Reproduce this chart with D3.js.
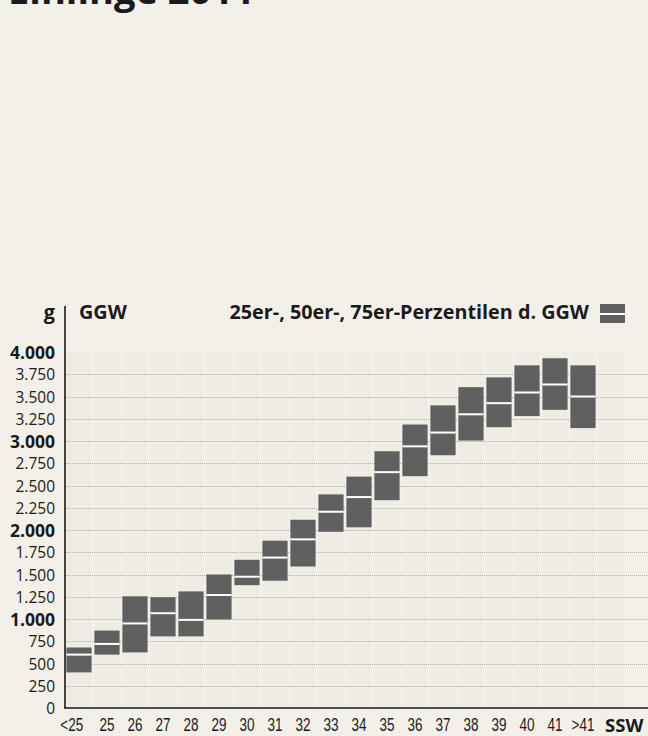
<!DOCTYPE html>
<html>
<head>
<meta charset="utf-8">
<script src="https://cdn.jsdelivr.net/npm/d3@7"></script>
<style>
  html, body { margin: 0; padding: 0; background: #f3f0e9; }
  svg { display: block; }
</style>
</head>
<body>
<div id="chart"></div>
<script>
// Schwangerschaftswoche (SSW) categories and percentiles of GGW (grams)
const categories = ["<25","25","26","27","28","29","30","31","32","33","34","35","36","37","38","39","40","41",">41"];
const p25 = [400, 600, 625, 805, 805, 995, 1380, 1430, 1590, 1980, 2030, 2335, 2605, 2840, 3005, 3155, 3280, 3350, 3145];
const p50 = [600, 720, 950, 1065, 990, 1270, 1475, 1690, 1895, 2205, 2370, 2650, 2940, 3095, 3300, 3425, 3545, 3635, 3500];
const p75 = [680, 870, 1255, 1245, 1310, 1500, 1665, 1880, 2115, 2400, 2600, 2885, 3185, 3400, 3605, 3715, 3850, 3930, 3850];
const yTickValues = [0, 250, 500, 750, 1000, 1250, 1500, 1750, 2000, 2250, 2500, 2750, 3000, 3250, 3500, 3750, 4000];

const width = 648, height = 736;
const barColor = "#5f6160";
const condensed = "'Liberation Sans', Arial, sans-serif";
const regular = "'Open Sans', 'Noto Sans', sans-serif";
const boldFont = "'Open Sans', 'Noto Sans', sans-serif";

const data = categories.map((c, i) => ({cat: c, q1: p25[i], med: p50[i], q3: p75[i]}));

const svg = d3.select("#chart")
  .append("svg")
  .attr("width", width)
  .attr("height", height);

svg.append("rect")
  .attr("width", width)
  .attr("height", height)
  .attr("fill", "#f3f0e9");

// title (cut off at the top of the picture)
svg.append("text")
  .attr("x", 8)
  .attr("y", 4)
  .attr("font-family", boldFont)
  .attr("font-weight", 700)
  .attr("font-size", 38)
  .attr("fill", "#1a1a1a")
  .text("Einlinge 2011");

// scales -- one empty slot after the last category
const slots = categories.concat([""]);
const x = d3.scaleBand()
  .domain(slots)
  .range([65, 625])
  .paddingInner(0.1)
  .paddingOuter(0.05);

const y = d3.scaleLinear()
  .domain([0, 4000])
  .range([708, 352]);

// plot background columns
svg.append("g")
  .selectAll("rect")
  .data(slots)
  .join("rect")
    .attr("x", d => x(d))
    .attr("y", y(4000))
    .attr("width", x.bandwidth())
    .attr("height", y(0) - y(4000))
    .attr("fill", "#efede3");

// dotted gridlines
svg.append("g")
  .selectAll("line")
  .data(yTickValues.filter(d => d > 0 && d < 4000))
  .join("line")
    .attr("x1", 66)
    .attr("x2", width)
    .attr("y1", d => Math.round(y(d)) + 0.5)
    .attr("y2", d => Math.round(y(d)) + 0.5)
    .attr("stroke", "#adaba3")
    .attr("stroke-dasharray", "1,1");

// y axis labels
const isBold = d => d % 1000 === 0 && d > 0;
const yAxis = d3.axisLeft(y)
  .tickValues(yTickValues)
  .tickSize(0)
  .tickPadding(10)
  .tickFormat(d => d3.format(",")(d).replace(/,/g, "."));

const yAxisGroup = svg.append("g")
  .attr("transform", "translate(65,0)")
  .call(yAxis);
yAxisGroup.select(".domain").remove();
yAxisGroup.selectAll("text")
  .attr("fill", "#1a1a1a")
  .attr("font-size", d => isBold(d) ? 17.5 : 15.5)
  .attr("font-family", d => isBold(d) ? boldFont : regular)
  .attr("font-weight", d => isBold(d) ? 700 : 400)
  .attr("dy", "0.36em");

// x axis labels (condensed look via horizontal scale)
const xAxis = d3.axisBottom(x)
  .tickValues(categories)
  .tickSize(0);

const xAxisGroup = svg.append("g")
  .attr("transform", "translate(0,708)")
  .call(xAxis);
xAxisGroup.select(".domain").remove();
xAxisGroup.selectAll("text")
  .attr("y", 23.5)
  .attr("dy", 0)
  .attr("dx", (d, i) => i === 0 ? -10 : 0)
  .attr("transform", "scale(0.73,1)")
  .attr("fill", "#1a1a1a")
  .attr("font-size", 18.5)
  .attr("font-family", condensed);

svg.append("text")
  .attr("x", 605)
  .attr("y", 731.5)
  .attr("font-family", boldFont)
  .attr("font-weight", 700)
  .attr("font-size", 18.5)
  .attr("fill", "#1a1a1a")
  .text("SSW");

// boxes 25er - 75er
const boxes = svg.append("g");
boxes.selectAll("rect")
  .data(data)
  .join("rect")
    .attr("x", d => x(d.cat))
    .attr("y", d => y(d.q3))
    .attr("width", x.bandwidth())
    .attr("height", d => y(d.q1) - y(d.q3))
    .attr("fill", barColor);

// median lines
boxes.selectAll("line")
  .data(data)
  .join("line")
    .attr("x1", d => x(d.cat))
    .attr("x2", d => x(d.cat) + x.bandwidth())
    .attr("y1", d => y(d.med))
    .attr("y2", d => y(d.med))
    .attr("stroke", "#ffffff")
    .attr("stroke-width", 2);

// axis lines
svg.append("line")
  .attr("x1", 65).attr("x2", 65)
  .attr("y1", 306).attr("y2", 708)
  .attr("stroke", "#1a1a1a")
  .attr("stroke-width", 1.6);

svg.append("line")
  .attr("x1", 64).attr("x2", width)
  .attr("y1", 708).attr("y2", 708)
  .attr("stroke", "#1a1a1a")
  .attr("stroke-width", 1.6);

// header
const header = [
  {text: "g", x: 55, anchor: "end"},
  {text: "GGW", x: 79, anchor: "start"},
  {text: "25er-, 50er-, 75er-Perzentilen d. GGW", x: 589, anchor: "end"}
];
svg.append("g")
  .selectAll("text")
  .data(header)
  .join("text")
    .attr("x", d => d.x)
    .attr("y", 319)
    .attr("text-anchor", d => d.anchor)
    .attr("font-family", boldFont)
    .attr("font-weight", 700)
    .attr("font-size", 19.8)
    .attr("fill", "#1a1a1a")
    .text(d => d.text);

// legend swatch
const legend = svg.append("g").attr("transform", "translate(600,304)");
legend.append("rect")
  .attr("width", 25)
  .attr("height", 19)
  .attr("fill", barColor);
legend.append("line")
  .attr("x1", 0).attr("x2", 25)
  .attr("y1", 10).attr("y2", 10)
  .attr("stroke", "#ffffff")
  .attr("stroke-width", 2);
</script>
</body>
</html>
